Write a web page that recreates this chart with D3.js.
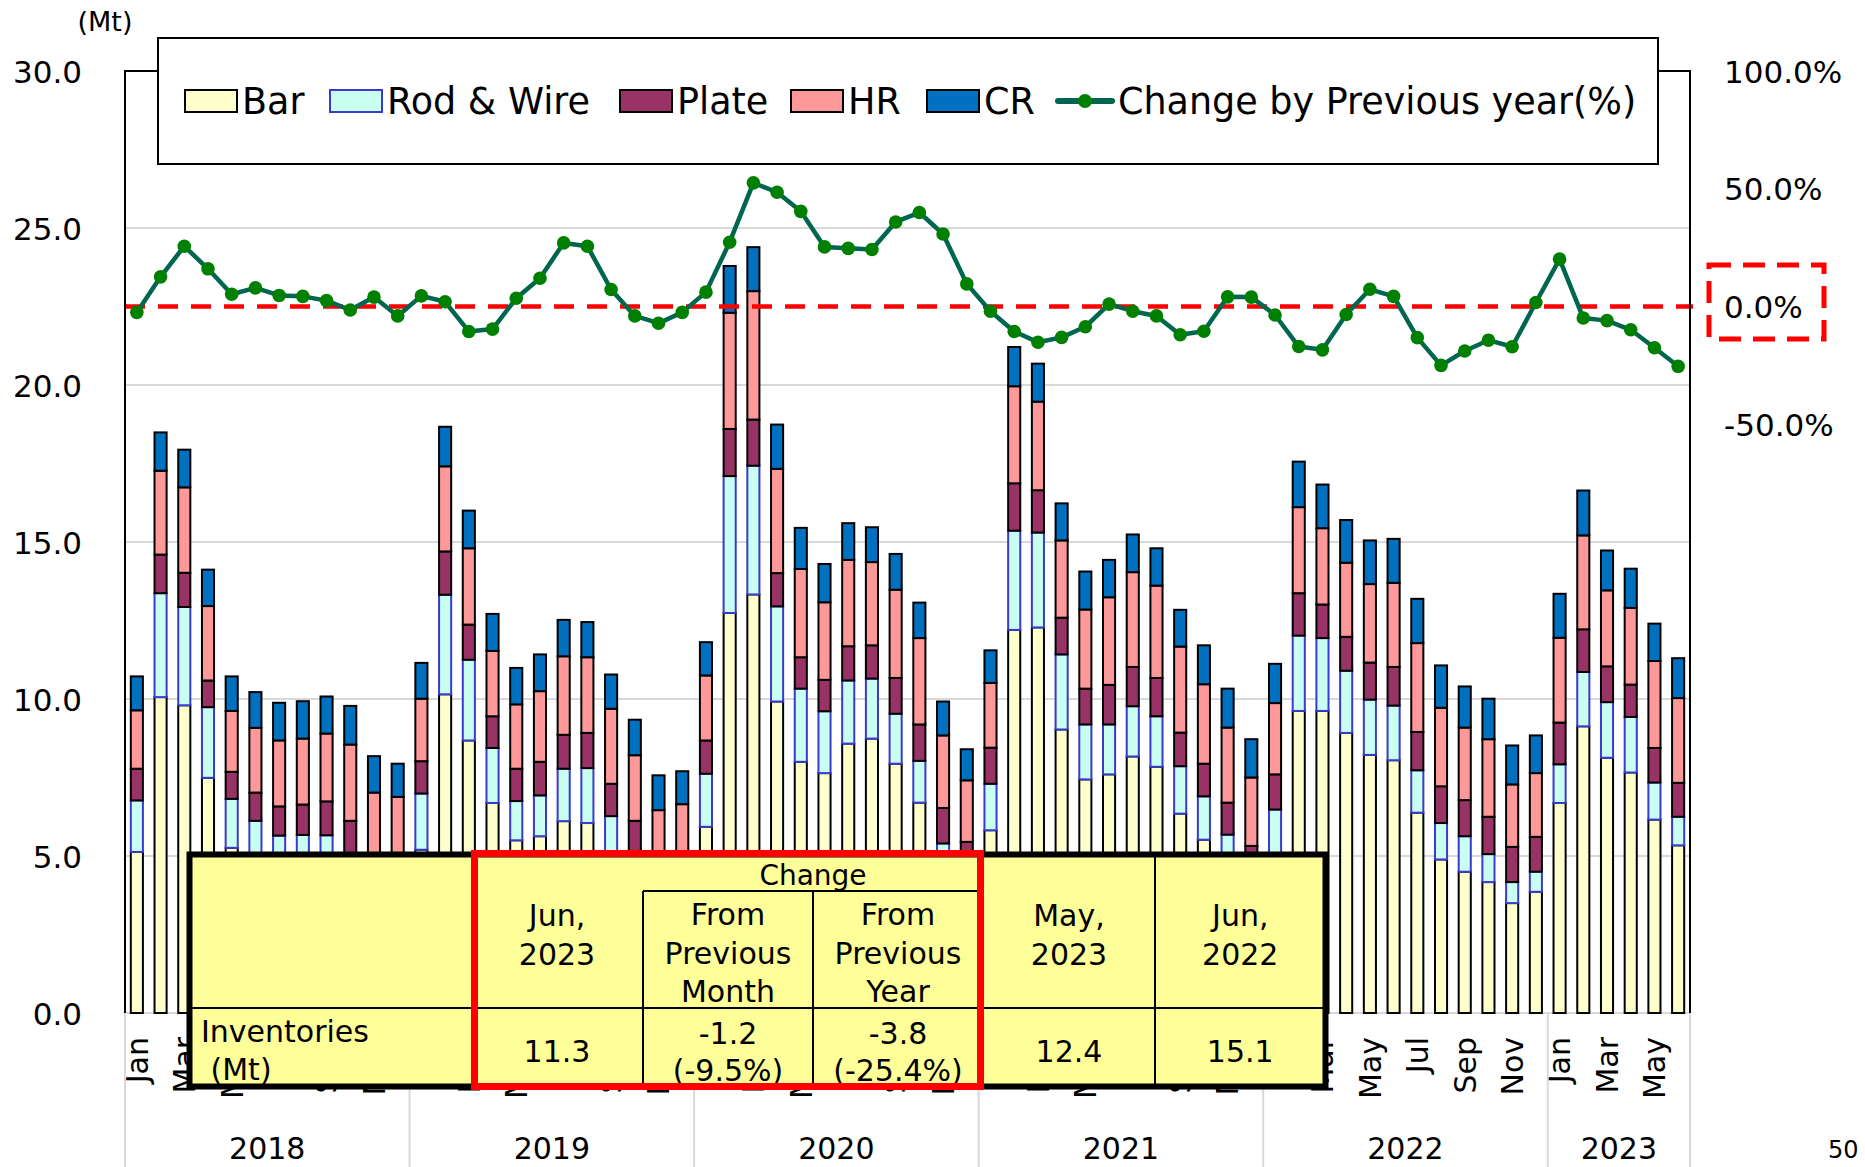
<!DOCTYPE html>
<html><head><meta charset="utf-8">
<script src="https://cdn.jsdelivr.net/npm/d3@7"></script>
<style>
body{margin:0;background:#fff}
svg{display:block}
text{font-family:"DejaVu Sans",sans-serif;fill:#000}
</style>
</head><body>
<svg id="c" width="1865" height="1167"></svg>
<script>
// ---------------- DATA ----------------
const years = [2018, 2019, 2020, 2021, 2022, 2023];
const monthNames = ["Jan","Feb","Mar","Apr","May","Jun","Jul","Aug","Sep","Oct","Nov","Dec"];
const seriesNames = ["Bar", "Rod & Wire", "Plate", "HR", "CR"];
const lineName = "Change by Previous year(%)";

const bar = [5.13,10.06,9.80,7.49,5.26,4.90,4.90,4.90,4.80,3.90,3.00,3.10,
             5.20,10.15,8.68,6.69,5.50,5.63,6.11,6.05,4.90,3.90,3.00,3.10,
             5.93,12.74,13.33,9.92,8.00,7.64,8.58,8.74,7.94,6.70,4.00,3.60,
             5.82,12.20,12.28,9.03,7.44,7.60,8.17,7.84,6.35,5.52,4.30,3.60,
             4.60,9.62,9.62,8.92,8.22,8.05,6.38,4.89,4.50,4.17,3.50,3.86,
             6.69,9.13,8.13,7.66,6.16,5.34];
const rod = [1.64,3.31,3.13,2.25,1.56,1.22,0.75,0.77,0.86,0.80,0.80,0.80,
             1.79,3.17,2.57,1.75,1.25,1.30,1.67,1.75,1.37,0.80,0.80,0.80,
             1.69,4.36,4.10,3.03,2.33,1.97,2.01,1.91,1.59,1.33,1.40,0.90,
             1.48,3.16,3.02,2.39,1.75,1.59,1.60,1.61,1.51,1.38,1.38,0.80,
             1.88,2.40,2.32,1.98,1.76,1.74,1.35,1.16,1.13,0.89,0.67,0.64,
             1.23,1.73,1.77,1.77,1.18,0.91];
const plate = [1.01,1.23,1.09,0.85,0.86,0.90,0.93,0.97,1.08,1.42,0.80,0.70,
               1.03,1.38,1.12,1.01,1.03,1.07,1.08,1.12,1.03,1.42,0.80,0.80,
               1.06,1.50,1.47,1.06,1.00,1.00,1.09,1.06,1.14,1.16,1.13,0.95,
               1.15,1.51,1.35,1.17,1.14,1.26,1.25,1.22,1.07,1.04,1.02,0.92,
               1.12,1.35,1.07,1.08,1.18,1.23,1.22,1.17,1.15,1.19,1.12,1.11,
               1.33,1.36,1.14,1.03,1.10,1.08];
const hr = [1.86,2.67,2.72,2.37,1.94,2.06,2.10,2.10,2.16,2.43,2.42,2.28,
            1.99,2.71,2.43,2.08,2.05,2.25,2.50,2.41,2.39,2.09,1.86,1.95,
            2.07,3.70,4.09,3.32,2.81,2.47,2.75,2.65,2.81,2.75,2.31,1.96,
            2.06,3.09,2.82,2.46,2.52,2.79,3.02,2.94,2.74,2.53,2.39,2.18,
            2.27,2.74,2.43,2.36,2.50,2.68,2.83,2.50,2.31,2.47,1.99,2.03,
            2.70,2.99,2.42,2.44,2.77,2.70];
const cr = [1.08,1.22,1.20,1.16,1.10,1.14,1.20,1.19,1.18,1.23,1.16,1.06,
            1.14,1.26,1.20,1.18,1.16,1.17,1.16,1.12,1.09,1.13,1.11,1.05,
            1.06,1.49,1.40,1.41,1.31,1.22,1.17,1.11,1.14,1.13,1.08,0.99,
            1.04,1.25,1.21,1.18,1.21,1.19,1.20,1.19,1.17,1.24,1.24,1.22,
            1.25,1.45,1.39,1.36,1.39,1.40,1.41,1.35,1.31,1.29,1.24,1.20,
            1.40,1.43,1.27,1.25,1.19,1.27];
const yoy = [-2.5,12.6,25.6,16.0,5.2,7.9,4.7,4.3,2.5,-1.5,4.0,-4.0,
             4.5,2.0,-10.6,-9.6,3.5,12.0,27.0,25.6,7.2,-4.0,-7.1,-2.5,
             6.1,27.3,52.5,48.5,40.4,25.3,24.7,24.2,35.9,39.9,30.8,9.6,
             -2.0,-10.6,-15.2,-13.1,-8.6,1.0,-2.0,-4.0,-12.0,-10.5,4.1,4.0,
             -3.6,-17.0,-18.4,-3.4,7.3,4.3,-13.2,-25.0,-18.9,-14.3,-17.1,1.7,
             20.1,-4.9,-6.0,-9.9,-17.5,-25.4];

const leftTicks = [0, 5, 10, 15, 20, 25, 30];
const gridTicks = [5, 10, 15, 20, 25];
const rightTicks = [100, 50, 0, -50];

// table
const tableHeaderJun23 = ["Jun,", "2023"];
const tableChange = "Change";
const tableFromMonth = ["From", "Previous", "Month"];
const tableFromYear = ["From", "Previous", "Year"];
const tableMay23 = ["May,", "2023"];
const tableJun22 = ["Jun,", "2022"];
const tableRowLabel = ["Inventories", "\u00a0(Mt)"];
const tableValues = ["11.3", ["-1.2", "(-9.5%)"], ["-3.8", "(-25.4%)"], "12.4", "15.1"];

// ---------------- CHART ----------------
const colors = ["#FFFFCC", "#C8FFF0", "#993366", "#FF9999", "#0070C0"];
const strokes = ["#000", "#3A3ACC", "#000", "#000", "#000"];

const svg = d3.select("#c");
const L = 125, R = 1690, T = 71, B = 1013;
const n = bar.length;
const idx = d3.range(n);

const x = d3.scaleBand().domain(idx).range([L, R]).paddingInner(0.49).paddingOuter(0.245);
const y = d3.scaleLinear().domain([0, 30]).range([B, T]);
const yR = d3.scaleLinear().domain([-300, 100]).range([B, T]);

// gridlines
svg.append("g").selectAll("line").data(gridTicks).join("line")
  .attr("x1", L).attr("x2", R).attr("y1", d => y(d)).attr("y2", d => y(d))
  .attr("stroke", "#D9D9D9").attr("stroke-width", 2);
svg.append("line").attr("x1", L).attr("x2", R).attr("y1", B).attr("y2", B)
  .attr("stroke", "#D9D9D9").attr("stroke-width", 2);

// stacked bars
const table = idx.map(i => ({i, Bar: bar[i], "Rod & Wire": rod[i], Plate: plate[i], HR: hr[i], CR: cr[i]}));
const stack = d3.stack().keys(seriesNames)(table);
const gBars = svg.append("g");
stack.forEach((layer, k) => {
  gBars.append("g").selectAll("rect").data(layer).join("rect")
    .attr("x", d => x(d.data.i))
    .attr("width", x.bandwidth())
    .attr("y", d => y(d[1]))
    .attr("height", d => y(d[0]) - y(d[1]))
    .attr("fill", colors[k])
    .attr("stroke", strokes[k])
    .attr("stroke-width", 2);
});

// zero dashed line (right axis 0%)
svg.append("line").attr("x1", L).attr("x2", R + 3).attr("y1", yR(0)).attr("y2", yR(0))
  .attr("stroke", "#FF0000").attr("stroke-width", 4.5).attr("stroke-dasharray", "20,13");

// yoy line
const line = d3.line().x(i => x(i) + x.bandwidth() / 2).y(i => yR(yoy[i]));
svg.append("path").datum(idx).attr("d", line)
  .attr("fill", "none").attr("stroke", "#00664F").attr("stroke-width", 4.5).attr("stroke-linejoin", "round");
svg.append("g").selectAll("circle").data(idx).join("circle")
  .attr("cx", i => x(i) + x.bandwidth() / 2).attr("cy", i => yR(yoy[i])).attr("r", 6.8)
  .attr("fill", "#008000");

// frame
svg.append("path").attr("d", `M${L},${B}V${T}H${R}V${B}`).attr("fill", "none")
  .attr("stroke", "#000").attr("stroke-width", 2);

// left axis
const axL = svg.append("g").attr("transform", `translate(${L},0)`)
  .call(d3.axisLeft(y).tickValues(leftTicks).tickFormat(d3.format(".1f")).tickSize(0).tickPadding(43));
axL.select(".domain").remove();
axL.selectAll("text").style("font-size", "31px").style("font-family", "DejaVu Sans").attr("dy", "0.36em");

svg.append("text").attr("x", 105).attr("y", 31).attr("text-anchor", "middle")
  .style("font-size", "27px").text("(Mt)");

// right axis
const pct = d => d.toFixed(1) + "%";
const axR = svg.append("g").attr("transform", `translate(${R},0)`)
  .call(d3.axisRight(yR).tickValues(rightTicks).tickFormat(pct).tickSize(0).tickPadding(34));
axR.select(".domain").remove();
axR.selectAll("text").style("font-size", "31px").style("font-family", "DejaVu Sans").attr("dy", "0.36em");

// red dashed box around 0.0%
svg.append("rect").attr("x", 1709).attr("y", 265).attr("width", 115).attr("height", 74)
  .attr("fill", "none").attr("stroke", "#FF0000").attr("stroke-width", 5).attr("stroke-dasharray", "22,12");

// x axis months
const axB = svg.append("g").attr("transform", `translate(0,${B})`)
  .call(d3.axisBottom(x).tickValues(idx.filter(i => i % 2 === 0)).tickFormat(i => monthNames[i % 12]).tickSize(0));
axB.select(".domain").remove();
axB.selectAll("text")
  .style("font-size", "30px").style("font-family", "DejaVu Sans")
  .attr("transform", "rotate(-90)").attr("x", -24).attr("y", 0).attr("dy", "0.36em")
  .style("text-anchor", "end");

// year separators + labels
const yearEdges = years.map((yr, k) => x(k * 12) - x.step() * x.paddingInner() / 2);
yearEdges.push(R);
svg.append("g").selectAll("line").data(yearEdges).join("line")
  .attr("x1", d => d).attr("x2", d => d).attr("y1", B).attr("y2", 1167)
  .attr("stroke", "#D9D9D9").attr("stroke-width", 2);
svg.append("g").selectAll("text").data(years).join("text")
  .attr("x", (d, k) => (yearEdges[k] + yearEdges[k + 1]) / 2).attr("y", 1159)
  .attr("text-anchor", "middle").style("font-size", "30px").text(d => d);

svg.append("text").attr("x", 1828).attr("y", 1158).style("font-size", "24px").text("50");

// ---------------- TABLE ----------------
const tb = svg.append("g");
const tx0 = 189.5, tx1 = 1325.5, ty0 = 854.5, ty1 = 1086.5;
const cols = [tx0, 471, 643, 813, 983, 1155, tx1];
const rowY = 1008, chY = 891;
tb.append("rect").attr("x", tx0).attr("y", ty0).attr("width", tx1 - tx0).attr("height", ty1 - ty0)
  .attr("fill", "#FFFF99");
const thin = (x1, y1, x2, y2) => tb.append("line").attr("x1", x1).attr("y1", y1).attr("x2", x2).attr("y2", y2)
  .attr("stroke", "#000").attr("stroke-width", 2);
thin(tx0, rowY, tx1, rowY);
thin(cols[2], chY, cols[4], chY);
thin(cols[2], chY, cols[2], ty1);
thin(cols[3], chY, cols[3], ty1);
thin(cols[5], ty0, cols[5], ty1);
tb.append("rect").attr("x", tx0).attr("y", ty0).attr("width", tx1 - tx0).attr("height", ty1 - ty0)
  .attr("fill", "none").attr("stroke", "#000").attr("stroke-width", 6);

const txt = (xx, yy, s, size, anchor) => tb.append("text").attr("x", xx).attr("y", yy)
  .attr("text-anchor", anchor || "middle").style("font-size", (size || 30) + "px").text(s);
const mid = (a, b) => (cols[a] + cols[b]) / 2;
const lh = 38.5;
tableHeaderJun23.forEach((s, k) => txt(mid(1, 2), 926 + k * lh, s));
txt((cols[2] + cols[4]) / 2, 885, tableChange, 28);
tableFromMonth.forEach((s, k) => txt(mid(2, 3), 925 + k * lh, s));
tableFromYear.forEach((s, k) => txt(mid(3, 4), 925 + k * lh, s));
tableMay23.forEach((s, k) => txt(mid(4, 5), 926 + k * lh, s));
tableJun22.forEach((s, k) => txt(mid(5, 6), 926 + k * lh, s));
txt(201, 1042, tableRowLabel[0], 30, "start");
txt(201, 1080, tableRowLabel[1], 30, "start");
txt(mid(1, 2), 1062, tableValues[0]);
txt(mid(2, 3), 1044, tableValues[1][0]); txt(mid(2, 3), 1081, tableValues[1][1]);
txt(mid(3, 4), 1044, tableValues[2][0]); txt(mid(3, 4), 1081, tableValues[2][1]);
txt(mid(4, 5), 1062, tableValues[3]);
txt(mid(5, 6), 1062, tableValues[4]);
// red highlight box
tb.append("rect").attr("x", 474.5).attr("y", 853.5).attr("width", 980.5 - 474.5).attr("height", 1086.5 - 853.5)
  .attr("fill", "none").attr("stroke", "#FF0000").attr("stroke-width", 7);

// ---------------- LEGEND ----------------
const lg = svg.append("g");
lg.append("rect").attr("x", 158).attr("y", 38).attr("width", 1500).attr("height", 126)
  .attr("fill", "#fff").attr("stroke", "#000").attr("stroke-width", 2);
const swX = [185, 330, 620, 791, 927];
seriesNames.forEach((s, k) => {
  lg.append("rect").attr("x", swX[k]).attr("y", 90).attr("width", 52).attr("height", 22)
    .attr("fill", colors[k]).attr("stroke", strokes[k]).attr("stroke-width", 2);
  lg.append("text").attr("x", swX[k] + 57).attr("y", 114).style("font-size", "36.5px").text(s);
});
lg.append("line").attr("x1", 1058).attr("x2", 1112).attr("y1", 101).attr("y2", 101)
  .attr("stroke", "#00664F").attr("stroke-width", 6).attr("stroke-linecap", "round");
lg.append("circle").attr("cx", 1085).attr("cy", 101).attr("r", 7).attr("fill", "#008000");
lg.append("text").attr("x", 1118).attr("y", 114).style("font-size", "36.5px").text(lineName);
</script>
</body></html>
